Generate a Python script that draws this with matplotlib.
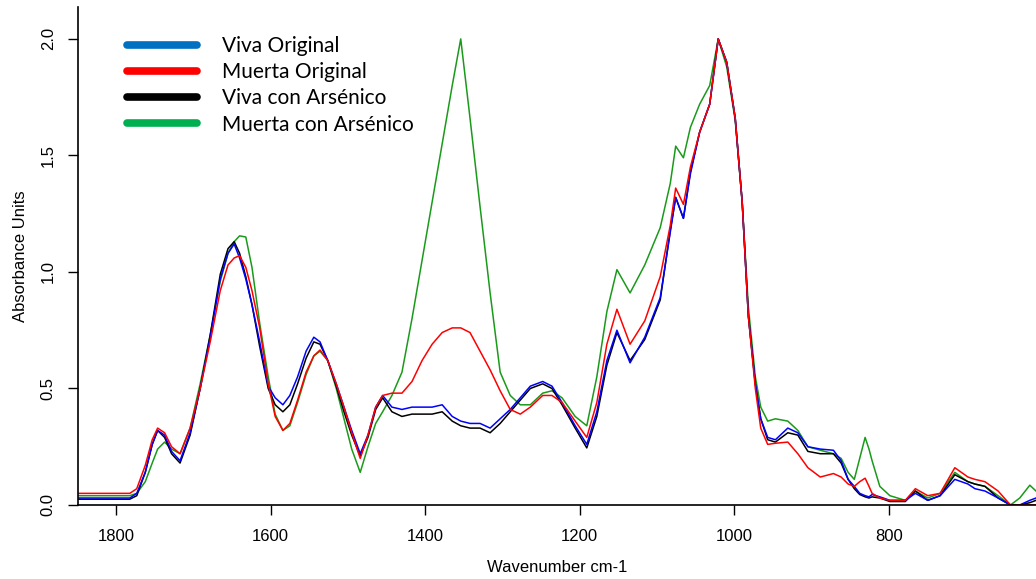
import matplotlib
matplotlib.use("Agg")
import matplotlib.pyplot as plt
from matplotlib.lines import Line2D

# wavenumber grid (cm-1) shared by all four spectra
wavenumber = [1849, 1821, 1800, 1782, 1773, 1762, 1753, 1746, 1737, 1728,
              1717, 1704, 1691, 1678, 1665, 1655, 1647, 1640, 1632, 1624,
              1614, 1603, 1594, 1584, 1575, 1565, 1554, 1544, 1536, 1526,
              1515, 1505, 1495, 1484, 1474, 1464, 1455, 1443, 1430, 1417,
              1404, 1391, 1378, 1365, 1354, 1342, 1329, 1316, 1303, 1290,
              1277, 1264, 1248, 1236, 1223, 1206, 1191, 1178, 1165, 1152,
              1135, 1116, 1096, 1083, 1076, 1066, 1057, 1045, 1032, 1021,
              1010, 999, 990, 982, 973, 966, 957, 947, 931, 918,
              905, 889, 872, 862, 853, 845, 838, 831, 826, 822,
              812, 799, 779, 766, 750, 734, 715, 698, 689, 676,
              659, 643, 631, 618, 610]

viva_original = [0.03, 0.03, 0.03, 0.03, 0.05, 0.14, 0.26, 0.32, 0.30, 0.23,
                 0.19, 0.31, 0.50, 0.72, 0.97, 1.08, 1.12, 1.06, 0.97, 0.86,
                 0.70, 0.51, 0.46, 0.43, 0.47, 0.55, 0.66, 0.72, 0.70, 0.62,
                 0.52, 0.42, 0.32, 0.22, 0.30, 0.42, 0.47, 0.42, 0.41, 0.42,
                 0.42, 0.42, 0.43, 0.38, 0.36, 0.35, 0.35, 0.33, 0.37, 0.41,
                 0.46, 0.51, 0.53, 0.51, 0.44, 0.34, 0.26, 0.40, 0.62, 0.75,
                 0.61, 0.72, 0.89, 1.17, 1.32, 1.23, 1.42, 1.60, 1.72, 2.00,
                 1.90, 1.66, 1.30, 0.81, 0.52, 0.37, 0.29, 0.28, 0.33, 0.31,
                 0.25, 0.24, 0.235, 0.19, 0.11, 0.08, 0.05, 0.04, 0.035, 0.045,
                 0.035, 0.02, 0.02, 0.05, 0.02, 0.04, 0.11, 0.09, 0.07, 0.06,
                 0.03, 0.0, 0.0, 0.02, 0.03]

muerta_original = [0.05, 0.05, 0.05, 0.05, 0.07, 0.17, 0.28, 0.33, 0.31, 0.25,
                   0.22, 0.33, 0.50, 0.70, 0.92, 1.03, 1.06, 1.07, 1.02, 0.92,
                   0.76, 0.52, 0.38, 0.32, 0.35, 0.45, 0.57, 0.64, 0.665, 0.62,
                   0.52, 0.42, 0.31, 0.20, 0.30, 0.42, 0.47, 0.48, 0.48, 0.53,
                   0.62, 0.69, 0.74, 0.76, 0.76, 0.74, 0.66, 0.58, 0.49, 0.41,
                   0.39, 0.42, 0.47, 0.47, 0.44, 0.36, 0.29, 0.44, 0.69, 0.84,
                   0.69, 0.79, 0.98, 1.20, 1.36, 1.29, 1.45, 1.60, 1.72, 2.00,
                   1.90, 1.66, 1.30, 0.81, 0.50, 0.33, 0.26, 0.265, 0.27, 0.22,
                   0.16, 0.12, 0.135, 0.12, 0.09, 0.08, 0.10, 0.115, 0.08, 0.05,
                   0.03, 0.02, 0.02, 0.07, 0.04, 0.05, 0.16, 0.12, 0.11, 0.10,
                   0.06, 0.0, 0.0, 0.0, 0.0]

viva_arsenico = [0.025, 0.025, 0.025, 0.025, 0.04, 0.14, 0.26, 0.32, 0.29, 0.22,
                 0.18, 0.30, 0.50, 0.73, 0.99, 1.10, 1.13, 1.08, 0.98, 0.86,
                 0.68, 0.50, 0.43, 0.40, 0.43, 0.52, 0.63, 0.70, 0.69, 0.62,
                 0.51, 0.40, 0.30, 0.21, 0.29, 0.41, 0.46, 0.40, 0.38, 0.39,
                 0.39, 0.39, 0.40, 0.36, 0.34, 0.33, 0.33, 0.31, 0.35, 0.40,
                 0.45, 0.50, 0.52, 0.50, 0.43, 0.33, 0.245, 0.38, 0.60, 0.74,
                 0.62, 0.71, 0.88, 1.18, 1.32, 1.23, 1.43, 1.60, 1.72, 2.00,
                 1.90, 1.66, 1.30, 0.81, 0.52, 0.37, 0.28, 0.27, 0.31, 0.30,
                 0.23, 0.22, 0.22, 0.18, 0.11, 0.07, 0.045, 0.035, 0.03, 0.035,
                 0.03, 0.015, 0.015, 0.06, 0.02, 0.04, 0.13, 0.10, 0.09, 0.08,
                 0.03, 0.0, 0.0, 0.01, 0.02]

muerta_arsenico = [0.04, 0.04, 0.04, 0.04, 0.05, 0.10, 0.18, 0.24, 0.27, 0.24,
                   0.22, 0.33, 0.52, 0.73, 0.96, 1.08, 1.13, 1.155, 1.15, 1.02,
                   0.78, 0.55, 0.39, 0.32, 0.34, 0.44, 0.56, 0.64, 0.66, 0.62,
                   0.50, 0.37, 0.24, 0.14, 0.25, 0.35, 0.40, 0.47, 0.57, 0.80,
                   1.05, 1.30, 1.55, 1.80, 2.00, 1.66, 1.28, 0.91, 0.57, 0.47,
                   0.43, 0.43, 0.48, 0.49, 0.46, 0.38, 0.34, 0.55, 0.83, 1.01,
                   0.91, 1.03, 1.19, 1.38, 1.54, 1.49, 1.62, 1.72, 1.80, 2.00,
                   1.88, 1.65, 1.30, 0.85, 0.55, 0.42, 0.36, 0.37, 0.36, 0.32,
                   0.25, 0.235, 0.22, 0.20, 0.14, 0.11, 0.20, 0.29, 0.24, 0.19,
                   0.08, 0.04, 0.02, 0.06, 0.03, 0.05, 0.14, 0.10, 0.09, 0.08,
                   0.04, 0.0, 0.03, 0.085, 0.06]

labels = ["Viva Original", "Muerta Original", "Viva con Arsénico", "Muerta con Arsénico"]
legend_colors = ["#0070C0", "#FF0000", "#000000", "#00B050"]
x_ticks = [1800, 1600, 1400, 1200, 1000, 800]
y_ticks = [0.0, 0.5, 1.0, 1.5, 2.0]

axis_font = ["Liberation Sans", "DejaVu Sans"]

fig = plt.figure(figsize=(10.36, 5.79), dpi=100)
ax = fig.add_axes([78 / 1036, 74 / 579, 958 / 1036, 498 / 579])

ax.plot(wavenumber, muerta_arsenico, color="#1a9a1a", lw=1.1)
ax.plot(wavenumber, viva_arsenico, color="black", lw=1.1)
ax.plot(wavenumber, viva_original, color="#0000FF", lw=1.1)
ax.plot(wavenumber, muerta_original, color="#FF0000", lw=1.1)

ax.set_xlim(1849, 610)
ax.set_ylim(0, 2.137)
ax.set_xticks(x_ticks)
ax.set_yticks(y_ticks)
ax.set_yticklabels([f"{v:.1f}" for v in y_ticks], rotation=90, va="center",
                   family=axis_font, fontsize=12)
ax.set_xticklabels([str(v) for v in x_ticks], family=axis_font, fontsize=12)
ax.tick_params(axis="x", length=7, width=1, pad=10, color="black")
ax.tick_params(axis="y", length=7, width=1, pad=9, color="black")

for s in ["top", "right"]:
    ax.spines[s].set_visible(False)
for s in ["left", "bottom"]:
    ax.spines[s].set_linewidth(1.2)

ax.set_xlabel("Wavenumber cm-1", family=axis_font, fontsize=12, labelpad=12)
ax.set_ylabel("Absorbance Units", family=axis_font, fontsize=12, labelpad=9)

handles = [Line2D([0], [0], color=c, lw=5.5, solid_capstyle="round") for c in legend_colors]
ax.legend(handles, labels, loc="upper left", bbox_to_anchor=(0.051, 0.942),
          frameon=False, handlelength=3.35, handletextpad=1.2,
          labelspacing=0.3, borderpad=0, borderaxespad=0,
          prop={"family": ["Lato", "DejaVu Sans"], "size": 15})

fig.savefig("out.png", dpi=100)
